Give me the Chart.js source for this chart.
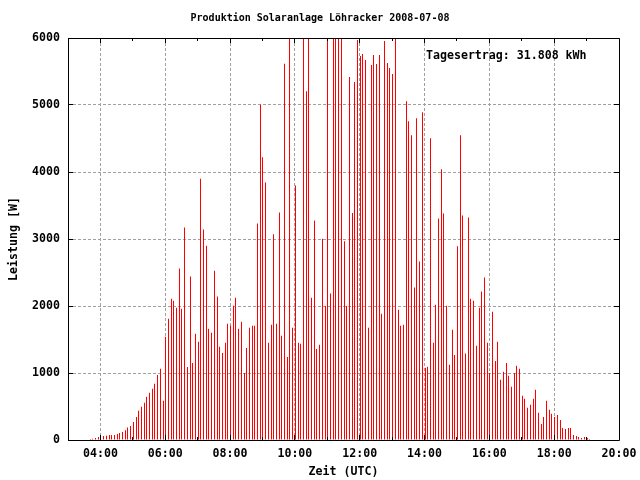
<!DOCTYPE html>
<html>
<head>
<meta charset="utf-8">
<title>Produktion Solaranlage Löhracker 2008-07-08</title>
<script src="https://cdn.jsdelivr.net/npm/chart.js@4/dist/chart.umd.min.js"></script>
<style>
  html, body { margin: 0; padding: 0; background: #fff; }
  #wrap { width: 640px; height: 480px; }
</style>
</head>
<body>
<div id="wrap"><canvas id="solarChart" width="640" height="480"></canvas></div>
<script>
const chartTitle = 'Produktion Solaranlage Löhracker 2008-07-08';
const tagesertrag = 'Tagesertrag: 31.808 kWh';

// 5-Minuten-Werte (UTC)
const zeitpunkte = [
  '03:40','03:45','03:50','03:55',
  '04:00','04:05','04:10','04:15','04:20','04:25','04:30','04:35','04:40','04:45','04:50','04:55',
  '05:00','05:05','05:10','05:15','05:20','05:25','05:30','05:35','05:40','05:45','05:50','05:55',
  '06:00','06:05','06:10','06:15','06:20','06:25','06:30','06:35','06:40','06:45','06:50','06:55',
  '07:00','07:05','07:10','07:15','07:20','07:25','07:30','07:35','07:40','07:45','07:50','07:55',
  '08:00','08:05','08:10','08:15','08:20','08:25','08:30','08:35','08:40','08:45','08:50','08:55',
  '09:00','09:05','09:10','09:15','09:20','09:25','09:30','09:35','09:40','09:45','09:50','09:55',
  '10:00','10:05','10:10','10:15','10:20','10:25','10:30','10:35','10:40','10:45','10:50','10:55',
  '11:00','11:05','11:10','11:15','11:20','11:25','11:30','11:35','11:40','11:45','11:50','11:55',
  '12:00','12:05','12:10','12:15','12:20','12:25','12:30','12:35','12:40','12:45','12:50','12:55',
  '13:00','13:05','13:10','13:15','13:20','13:25','13:30','13:35','13:40','13:45','13:50','13:55',
  '14:00','14:05','14:10','14:15','14:20','14:25','14:30','14:35','14:40','14:45','14:50','14:55',
  '15:00','15:05','15:10','15:15','15:20','15:25','15:30','15:35','15:40','15:45','15:50','15:55',
  '16:00','16:05','16:10','16:15','16:20','16:25','16:30','16:35','16:40','16:45','16:50','16:55',
  '17:00','17:05','17:10','17:15','17:20','17:25','17:30','17:35','17:40','17:45','17:50','17:55',
  '18:00','18:05','18:10','18:15','18:20','18:25','18:30','18:35','18:40','18:45','18:50','18:55',
  '19:00','19:05'
];

// Leistung in W, gleiche Reihenfolge wie zeitpunkte
const leistung = [
  15, 20, 30, 45,
  50, 60, 65, 75, 75, 75, 90, 105, 120, 145, 185, 210,
  270, 345, 435, 495, 555, 645, 705, 765, 840, 970, 1065, 585,
  1540, 1810, 2110, 2080, 1975, 2560, 1960, 3170, 1090, 2440, 1150, 1585,
  1465, 3900, 3140, 2900, 1660, 1600, 2525, 2140, 1390, 1300, 1450, 1735,
  1705, 2005, 2125, 1660, 1765, 1000, 1375, 1675, 1705, 1705, 3230, 5008,
  4220, 3845, 1450, 1720, 3070, 1735, 3397, 1555, 5616, 1240, 6300, 1675,
  3800, 1450, 1435, 6300, 5207, 6300, 2125, 3277, 1360, 1420, 3005, 2000,
  6300, 2185, 6300, 6300, 6300, 6300, 2965, 2000, 5417, 3387, 5342, 5970,
  5731, 5761, 5671, 1675, 5596, 5746, 5611, 5746, 1885, 5955, 5626, 5551,
  5461, 6300, 1945, 1705, 1720, 5057, 4758, 4549, 2275, 4803, 2665, 4893,
  1080, 1095, 4504, 1450, 2020, 3307, 4040, 3382, 2005, 1125, 1645, 1270,
  2890, 4549, 3352, 1290, 3322, 2110, 2080, 1405, 1975, 2215, 2425, 1450,
  1000, 1915, 1180, 1465, 900, 1020, 1150, 960, 795, 1000, 1110, 1065,
  660, 615, 480, 525, 615, 750, 405, 240, 345, 585, 450, 390,
  345, 375, 300, 180, 165, 180, 180, 75, 60, 45, 30, 45,
  30, 15
];

const zeitTicks = ['04:00','06:00','08:00','10:00','12:00','14:00','16:00','18:00','20:00'];
const zeitMin = '03:00';
const zeitMax = '20:00';
const leistungTicks = [0, 1000, 2000, 3000, 4000, 5000, 6000];

const monoFont = '"DejaVu Sans Mono", "Liberation Mono", monospace';

function toHours(t) {
  const parts = t.split(':');
  return Number(parts[0]) + Number(parts[1]) / 60;
}

function hourLabel(v) {
  const h = Math.floor(v);
  const m = Math.round((v - h) * 60);
  return String(h).padStart(2, '0') + ':' + String(m).padStart(2, '0');
}

// border box, inward tick marks like gnuplot, and the daily yield label
const gnuplotFrame = {
  id: 'gnuplotFrame',
  beforeDatasetsDraw(chart) {
    // put each impulse onto a whole pixel column
    chart.getDatasetMeta(0).data.forEach(bar => {
      bar.x = Math.round(bar.x) + 0.5;
    });
  },
  afterDraw(chart) {
    const ctx = chart.ctx;
    const a = chart.chartArea;
    const xs = chart.scales.x;
    const ys = chart.scales.y;
    ctx.save();
    ctx.strokeStyle = '#000';
    ctx.lineWidth = 1;
    ctx.setLineDash([]);
    ctx.beginPath();

    // x ticks: major every 2 h, minor every hour
    for (let h = Math.ceil(toHours(zeitMin)) + 1; h < toHours(zeitMax); h++) {
      const px = Math.floor(xs.getPixelForValue(h)) + 0.5;
      const len = h % 2 === 0 ? 5 : 3;
      ctx.moveTo(px, a.bottom);
      ctx.lineTo(px, a.bottom - len);
      ctx.moveTo(px, a.top);
      ctx.lineTo(px, a.top + len);
    }
    // y ticks on both sides
    leistungTicks.forEach(v => {
      const py = Math.floor(ys.getPixelForValue(v)) + 0.5;
      ctx.moveTo(a.left, py);
      ctx.lineTo(a.left + 5, py);
      ctx.moveTo(a.right, py);
      ctx.lineTo(a.right - 5, py);
    });
    ctx.stroke();

    ctx.beginPath();
    ctx.moveTo(a.left + 0.5, a.top + 0.5);
    ctx.lineTo(a.right + 0.5, a.top + 0.5);
    ctx.lineTo(a.right + 0.5, a.bottom + 0.5);
    ctx.lineTo(a.left + 0.5, a.bottom + 0.5);
    ctx.closePath();
    ctx.stroke();

    ctx.fillStyle = '#000';
    ctx.font = 'bold 11.6px ' + monoFont;
    ctx.textAlign = 'left';
    ctx.textBaseline = 'middle';
    ctx.fillText(tagesertrag, a.right - 193, a.top + 18);
    ctx.restore();
  }
};

const el = document.getElementById('solarChart').getContext('2d');

const solarChart = new Chart(el, {
  type: 'bar',
  data: {
    datasets: [{
      data: zeitpunkte.map((t, i) => ({ x: toHours(t), y: leistung[i] })),
      backgroundColor: '#ff0000',
      borderWidth: 0,
      inflateAmount: 0,
      barThickness: 1,
      clip: 0
    }]
  },
  options: {
    responsive: false,
    animation: false,
    events: [],
    layout: { padding: 0 },
    plugins: {
      legend: { display: false },
      tooltip: { enabled: false },
      title: {
        display: true,
        text: chartTitle,
        color: '#000',
        font: { family: monoFont, size: 10, weight: 'bold', lineHeight: 1.2 },
        padding: { top: 12, bottom: 14 }
      }
    },
    scales: {
      x: {
        type: 'linear',
        min: toHours(zeitMin),
        max: toHours(zeitMax),
        offset: false,
        grid: { color: '#a0a0a0', lineWidth: 1, drawTicks: false, offset: false },
        border: { display: false, dash: [3, 2] },
        afterBuildTicks: scale => {
          scale.ticks = zeitTicks.map(t => ({ value: toHours(t) }));
        },
        afterFit: scale => {
          scale.height = 40;
          // the end labels may hang over the plot edge, as in gnuplot
          scale.paddingLeft = 0;
          scale.paddingRight = 0;
        },
        ticks: {
          color: '#000',
          padding: 7,
          maxRotation: 0,
          autoSkip: false,
          font: { family: monoFont, size: 11.6, weight: 'bold' },
          callback: v => hourLabel(v)
        },
        title: {
          display: true,
          text: 'Zeit (UTC)',
          color: '#000',
          font: { family: monoFont, size: 11.6, weight: 'bold' },
          padding: { top: 0, bottom: 1 }
        }
      },
      y: {
        min: leistungTicks[0],
        max: leistungTicks[leistungTicks.length - 1],
        grid: { color: '#a0a0a0', lineWidth: 1, drawTicks: false },
        border: { display: false, dash: [3, 2] },
        afterBuildTicks: scale => {
          scale.ticks = leistungTicks.map(v => ({ value: v }));
        },
        afterFit: scale => { scale.width = 68; },
        ticks: {
          color: '#000',
          padding: 8,
          font: { family: monoFont, size: 11.6, weight: 'bold' },
          callback: v => String(v)
        },
        title: {
          display: true,
          text: 'Leistung [W]',
          color: '#000',
          font: { family: monoFont, size: 11.6, weight: 'bold' },
          padding: { top: 7, bottom: 0 }
        }
      },
      // empty strip on the right so the plot ends at 20:00 like the original
      rechts: {
        type: 'linear',
        position: 'right',
        display: true,
        grid: { display: false },
        border: { display: false },
        ticks: { display: false },
        afterFit: scale => { scale.width = 21; }
      }
    }
  },
  plugins: [gnuplotFrame]
});
</script>
</body>
</html>
